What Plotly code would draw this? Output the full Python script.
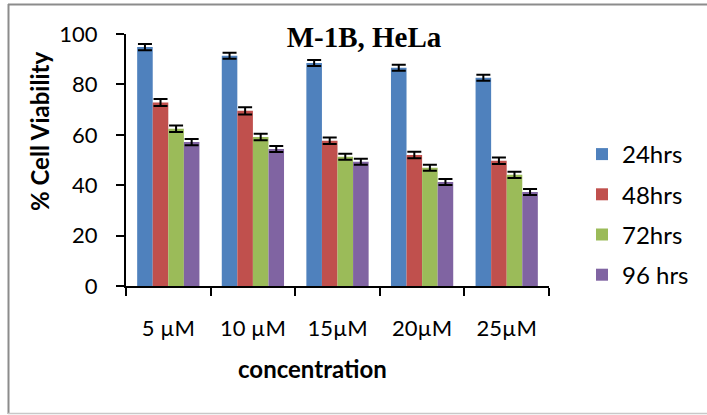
import plotly.graph_objects as go

# Cell viability of HeLa cells treated with M-1B
concentrations = ["5 µM", "10 µM", "15µM", "20µM", "25µM"]
series_names = ["24hrs", "48hrs", "72hrs", "96 hrs"]
viability_24h = [94.8, 91.4, 88.5, 86.6, 82.6]
viability_48h = [72.8, 69.5, 57.6, 52.0, 49.7]
viability_72h = [62.4, 59.1, 51.3, 46.9, 44.1]
viability_96h = [57.1, 54.4, 49.3, 41.3, 37.3]
error_24h = [1.2, 1.2, 1.2, 1.2, 1.2]
error_48h = [1.4, 1.4, 1.3, 1.3, 1.3]
error_72h = [1.3, 1.3, 1.2, 1.2, 1.2]
error_96h = [1.2, 1.2, 1.2, 1.2, 1.2]
y_ticks = [0, 20, 40, 60, 80, 100]

colors = ["#4F81BD", "#C0504D", "#9BBB59", "#8064A2"]
values = [viability_24h, viability_48h, viability_72h, viability_96h]
errors = [error_24h, error_48h, error_72h, error_96h]

W, H = 707, 415
ML, MR, MT, MB = 126, 158, 34, 129
PW, PH = W - ML - MR, H - MT - MB

def px_x(p):
    return (p - ML) / PW

def px_y(p):
    return (H - MB - p) / PH

fig = go.Figure()
for i, name in enumerate(series_names):
    fig.add_trace(go.Bar(
        x=concentrations,
        y=values[i],
        name=name,
        marker=dict(color=colors[i], line=dict(width=0)),
        error_y=dict(type="data", array=errors[i], visible=True,
                     color="black", thickness=2, width=7),
        legendgroup=name,
    ))

tick_font = dict(family="Lato", size=22, color="black")

fig.update_layout(
    width=W, height=H,
    margin=dict(l=ML, r=MR, t=MT, b=MB),
    paper_bgcolor="white",
    plot_bgcolor="white",
    barmode="group",
    bargap=0.264,
    bargroupgap=0,
    title=dict(
        text="<b>M-1B, HeLa</b>",
        font=dict(family="Liberation Serif", size=29, color="black"),
        x=px_x(364), xref="paper", xanchor="center",
        y=1 - 37 / H, yref="container", yanchor="middle",
    ),
    xaxis=dict(
        type="category",
        showline=True, linecolor="black", linewidth=2,
        ticks="outside", ticklen=8, tickwidth=2, tickcolor="black",
        tickson="boundaries",
        tickfont=tick_font,
        ticklabelstandoff=22,
        showgrid=False,
    ),
    yaxis=dict(
        range=[0, 100],
        tickvals=y_ticks,
        showline=True, linecolor="black", linewidth=2,
        ticks="outside", ticklen=8, tickwidth=2, tickcolor="black",
        tickfont=tick_font,
        ticklabelstandoff=14,
        showgrid=False, zeroline=False,
    ),
    legend=dict(
        x=px_x(582), xanchor="left",
        y=px_y(132), yanchor="top",
        font=dict(family="Lato", size=24, color="black"),
        traceorder="grouped",
        tracegroupgap=6,
        itemwidth=30,
        bgcolor="rgba(0,0,0,0)",
    ),
    annotations=[
        dict(text="<b>% Cell Viability</b>", textangle=-90,
             x=px_x(39), y=px_y(132), xref="paper", yref="paper",
             showarrow=False, xanchor="center", yanchor="middle",
             font=dict(family="Lato", size=24, color="black")),
        dict(text="<b>concentration</b>",
             x=px_x(312), y=px_y(368), xref="paper", yref="paper",
             showarrow=False, xanchor="center", yanchor="middle",
             font=dict(family="Lato", size=24, color="black")),
    ],
    shapes=[
        dict(type="line", xref="paper", yref="paper",
             x0=px_x(8.5), x1=px_x(8.5), y0=px_y(4), y1=px_y(414),
             line=dict(color="#8C8C8C", width=2)),
        dict(type="line", xref="paper", yref="paper",
             x0=px_x(8), x1=px_x(708), y0=px_y(4.5), y1=px_y(4.5),
             line=dict(color="#8C8C8C", width=2)),
        dict(type="line", xref="paper", yref="paper",
             x0=px_x(8), x1=px_x(708), y0=px_y(413.5), y1=px_y(413.5),
             line=dict(color="#C8C8C8", width=1.5)),
    ],
)

fig.write_html("out.html")
